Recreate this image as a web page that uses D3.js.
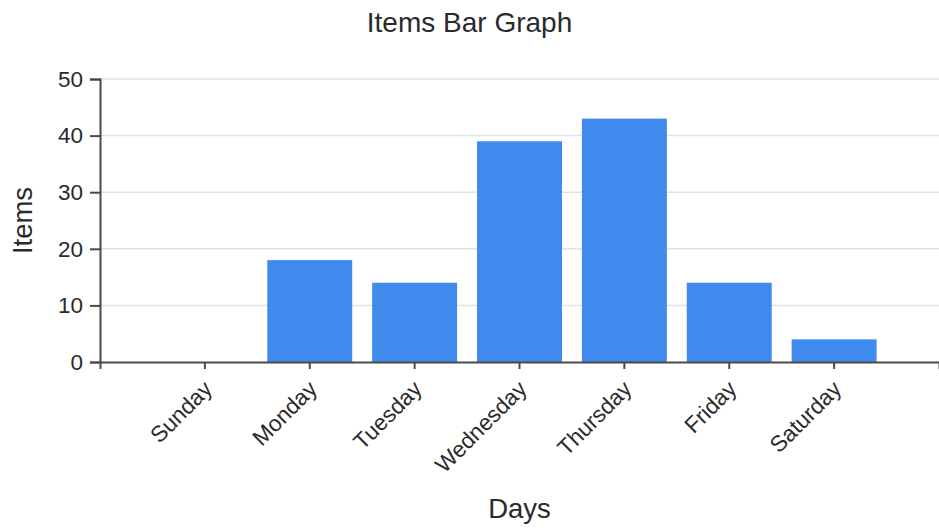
<!DOCTYPE html>
<html>
<head>
<meta charset="utf-8">
<script src="https://cdn.jsdelivr.net/npm/d3@7"></script>
<style>
  body { margin: 0; background: #fff; }
  svg { display: block; }
  svg text { font-family: "Liberation Sans", Arial, sans-serif; }
</style>
</head>
<body>
<svg id="chart" width="939" height="529"></svg>
<script>
const days = ["Sunday", "Monday", "Tuesday", "Wednesday", "Thursday", "Friday", "Saturday"];
const items = [0, 18, 14, 39, 43, 14, 4];
const yTicks = [0, 10, 20, 30, 40, 50];
const titleText = "Items Bar Graph";
const xLabel = "Days";
const yLabel = "Items";

const svg = d3.select("#chart");
const W = 939, H = 529;
const margin = { left: 100, right: 0, top: 79, bottom: 167 };
const x0 = margin.left, x1 = W - margin.right;
const y0 = H - margin.bottom, y1 = margin.top;
const FONT = '"Liberation Sans", Arial, sans-serif';
const TXT = "#2a2a2a";

const inner = 0.19;
const x = d3.scaleBand().domain(days).range([x0, x1])
  .paddingInner(inner).paddingOuter((1 + inner) / 2);
const y = d3.scaleLinear().domain([0, 50]).range([y0, y1]);

// gridlines
svg.append("g")
  .selectAll("line")
  .data(yTicks.filter(d => d > 0))
  .join("line")
  .attr("x1", x0).attr("x2", x1)
  .attr("y1", d => y(d)).attr("y2", d => y(d))
  .attr("stroke", "#e2e2e2").attr("stroke-width", 1.5);

// bars
svg.append("g")
  .selectAll("rect")
  .data(days.map((d, i) => ({ day: d, v: items[i] })))
  .join("rect")
  .attr("x", d => x(d.day))
  .attr("width", x.bandwidth())
  .attr("y", d => y(d.v))
  .attr("height", d => y(0) - y(d.v))
  .attr("fill", "#408aee");

// x axis
const gx = svg.append("g")
  .attr("transform", `translate(0,${y0})`)
  .call(d3.axisBottom(x).tickSize(7).tickSizeOuter(7))
  .attr("font-family", FONT);
gx.select(".domain").attr("stroke", "#4a4a4a").attr("stroke-width", 2);
gx.selectAll(".tick line").attr("stroke", "#4a4a4a").attr("stroke-width", 2);
gx.selectAll(".tick text")
  .attr("font-size", 22.5)
  .attr("fill", TXT)
  .attr("text-anchor", "end")
  .attr("dx", "-0.62em")
  .attr("dy", "0.72em")
  .attr("transform", "rotate(-45)");

// y axis
const gy = svg.append("g")
  .attr("transform", `translate(${x0},0)`)
  .call(d3.axisLeft(y).tickValues(yTicks).tickSize(10).tickSizeOuter(10).tickPadding(7))
  .attr("font-family", FONT);
gy.select(".domain").attr("stroke", "#4a4a4a").attr("stroke-width", 2);
gy.selectAll(".tick line").attr("stroke", "#4a4a4a").attr("stroke-width", 2);
gy.selectAll(".tick text").attr("font-size", 22.5).attr("fill", TXT);

// title
svg.append("text")
  .attr("x", W / 2).attr("y", 32)
  .attr("text-anchor", "middle")
  .attr("font-family", FONT)
  .attr("font-size", 28)
  .attr("fill", TXT)
  .text(titleText);

// x label
svg.append("text")
  .attr("x", (x0 + x1) / 2).attr("y", 518)
  .attr("text-anchor", "middle")
  .attr("font-family", FONT)
  .attr("font-size", 27.5)
  .attr("fill", TXT)
  .text(xLabel);

// y label
svg.append("text")
  .attr("transform", `translate(32,${(y0 + y1) / 2}) rotate(-90)`)
  .attr("text-anchor", "middle")
  .attr("font-family", FONT)
  .attr("font-size", 27.5)
  .attr("fill", TXT)
  .text(yLabel);
</script>
</body>
</html>
